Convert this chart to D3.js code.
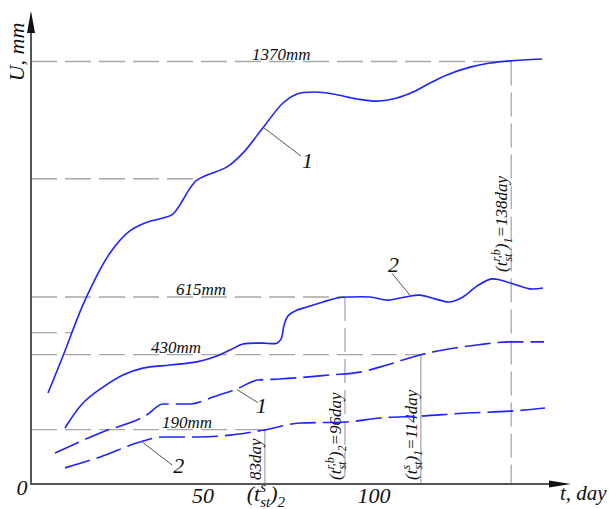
<!DOCTYPE html>
<html><head><meta charset="utf-8">
<script src="https://cdn.jsdelivr.net/npm/d3@7"></script>
<style>
body{margin:0;background:#fff}
svg{display:block}
</style>
</head><body><svg id="c" width="609" height="509"></svg>
<script>
// ---- data (t in schematic days, U in mm) ----
const solid1T = [4.97, 9.36, 15.8, 23.1, 28.9, 33.9, 38.6, 41.5, 44.4, 46.5, 48.5, 51.5, 57.3, 62.0, 68.4, 73.7, 77.8, 83.0, 88.3, 95.3, 101.2, 107.0, 111.7, 116.7, 121.6, 128.4, 134.2, 140.1, 149.4];
const solid1U = [307, 426, 605, 756, 827, 855, 868, 881, 926, 964, 990, 1006, 1032, 1077, 1166, 1237, 1266, 1272, 1266, 1250, 1243, 1253, 1272, 1301, 1327, 1352, 1365, 1372, 1378];
const solid2T = [9.94, 15.2, 21.05, 26.9, 32.7, 40.6, 48.5, 54.4, 58.2, 62.0, 67.8, 71.9, 73.1, 74.0, 75.1, 77.2, 80.7, 85.4, 89.5, 93.3, 99.1, 104.4, 109.4, 113.7, 118.1, 122.5, 126.3, 130.4, 134.8, 140.1, 145.9, 149.7];
const solid2U = [195, 275, 326, 365, 387, 397, 407, 426, 445, 464, 467, 467, 480, 525, 554, 570, 583, 599, 612, 615, 615, 605, 615, 621, 609, 599, 615, 650, 673, 660, 641, 644];
const dashed1T = [7.02, 20.2, 33.9, 38.6, 46.5, 53.2, 60.2, 66.4, 72.8, 87.4, 96.2, 104.1, 113.7, 120.5, 130.4, 140.1, 150.0];
const dashed1U = [115, 179, 237, 272, 272, 294, 320, 349, 352, 365, 374, 397, 429, 445, 461, 471, 471];
const dashed2T = [9.94, 20.2, 31.9, 38.6, 48.5, 58.2, 68.4, 78.7, 91.8, 102.0, 113.7, 127.5, 140.1, 150.3];
const dashed2U = [67, 102, 150, 166, 166, 172, 189, 211, 214, 227, 233, 243, 249, 259];

const refLevels = [1370, 994, 615, 501, 430, 190];
const refEndT   = [140.4, 49.6, 91.8, 12.0, 114.0, 68.4];
const refLabels = ["1370mm", "", "615mm", "", "430mm", "190mm"];
const refLabelT = [64.6, 0, 42.4, 0, 35.1, 38.3];

const markerT = [68.4, 91.8, 114.0, 140.4];
const markerU = [190, 615, 430, 1370];
const markerLabels = [
  [{s:"83day",k:"n"}],
  [{s:"(t",k:"n"},{s:"st",k:"sub"},{s:"r,b",k:"sup"},{s:")",k:"n"},{s:"2",k:"sub"},{s:"=96day",k:"n"}],
  [{s:"(t",k:"n"},{s:"st",k:"sub"},{s:"s",k:"sup"},{s:")",k:"n"},{s:"1",k:"sub"},{s:"=114day",k:"n"}],
  [{s:"(t",k:"n"},{s:"st",k:"sub"},{s:"r,b",k:"sup"},{s:")",k:"n"},{s:"1",k:"sub"},{s:"=138day",k:"n"}]
];
const markerDashed = [false, true, false, true];

const xTicks = [50, 100];
const xTickLabels = ["50", "100"];

const curveNames = ["1", "2", "1", "2"];
const leaderT = [67.8, 111.1, 60.2, 32.5];
const leaderU = [1160, 617, 318, 150];

// ---- layout ----
const FONT = "'Liberation Serif', 'Times New Roman', serif";
const svg = d3.select("#c");
const x = d3.scaleLinear().domain([0, 100]).range([31, 373]);
const y = d3.scaleLinear().domain([0, 1370]).range([488.8, 61.5]);
const axisX = 31, axisY = 484;
const blue = "#1f23ff";

function txt(parent) {
  return parent.append("text").attr("font-family", FONT).attr("font-style", "italic").attr("fill", "#111");
}

// reference horizontal dashed lines
refLevels.forEach((u, i) => {
  svg.append("line").attr("x1", axisX).attr("x2", x(refEndT[i]))
    .attr("y1", y(u)).attr("y2", y(u))
    .attr("stroke", "#a8a8a8").attr("stroke-width", 1.3).attr("stroke-dasharray", "26,8");
  if (refLabels[i]) {
    txt(svg).attr("x", x(refLabelT[i])).attr("y", y(u) - 2)
      .attr("font-size", 17).text(refLabels[i]);
  }
});

// vertical marker lines
markerT.forEach((t, i) => {
  svg.append("line").attr("x1", x(t)).attr("x2", x(t))
    .attr("y1", y(markerU[i])).attr("y2", axisY)
    .attr("stroke", "#999").attr("stroke-width", 1.1)
    .attr("stroke-dasharray", markerDashed[i] ? "24,7" : null);
});

// rich text helper (sub/superscripts)
function rich(parent, parts, F) {
  const t = txt(parent).attr("font-size", F);
  let cur = 0, subW = 0, pairEnd = 0;
  parts.forEach((p, i) => {
    const fs = p.k === "n" ? F : Math.round(F * 0.68);
    const off = p.k === "sub" ? F * 0.28 : p.k === "sup" ? -F * 0.42 : 0;
    const ts = t.append("tspan").text(p.s).attr("font-size", fs).attr("dy", off - cur);
    cur = off;
    if (p.k === "sup" && i > 0 && parts[i - 1].k === "sub") {
      ts.attr("dx", -subW);
      const w = ts.node().getComputedTextLength();
      pairEnd = Math.max(0, subW - w);
    } else if (pairEnd > 0) {
      ts.attr("dx", pairEnd); pairEnd = 0;
    }
    if (p.k === "sub") subW = ts.node().getComputedTextLength();
  });
  return t;
}

// marker labels (rotated)
const markerLabelStart = [axisY - 4, axisY - 4, axisY - 4, 272];
markerT.forEach((t, i) => {
  const g = svg.append("g").attr("transform", `translate(${x(t) - 4},${markerLabelStart[i]}) rotate(-90)`);
  rich(g, markerLabels[i], 17);
});

// curves
const solidLine = d3.line().x(d => x(d[0])).y(d => y(d[1])).curve(d3.curveCatmullRom.alpha(0.5));
const dashLine = d3.line().x(d => x(d[0])).y(d => y(d[1])).curve(d3.curveMonotoneX);
const series = [
  {T: solid1T, U: solid1U, gen: solidLine, dash: null},
  {T: solid2T, U: solid2U, gen: solidLine, dash: null},
  {T: dashed1T, U: dashed1U, gen: dashLine, dash: "26,7"},
  {T: dashed2T, U: dashed2U, gen: dashLine, dash: "26,7"}
];
series.forEach(s => {
  svg.append("path").datum(s.T.map((t, i) => [t, s.U[i]]))
    .attr("d", s.gen).attr("fill", "none").attr("stroke", blue)
    .attr("stroke-width", 1.6).attr("stroke-dasharray", s.dash);
});

// leaders and curve numbers
const leaderOff = [[38, 29], [-19, -23], [21, 13], [30, 23]];
const nameOff = [[39, 41], [-23, -24], [19, 23], [31, 31]];
curveNames.forEach((n, i) => {
  const ax = x(leaderT[i]), ay = y(leaderU[i]);
  svg.append("line").attr("x1", ax).attr("y1", ay)
    .attr("x2", ax + leaderOff[i][0]).attr("y2", ay + leaderOff[i][1])
    .attr("stroke", "#555").attr("stroke-width", 1);
  txt(svg).attr("x", ax + nameOff[i][0]).attr("y", ay + nameOff[i][1])
    .attr("font-size", 22).text(n);
});

// axes
svg.append("line").attr("x1", axisX).attr("x2", 552).attr("y1", axisY).attr("y2", axisY)
  .attr("stroke", "#555").attr("stroke-width", 2);
svg.append("line").attr("x1", axisX).attr("x2", axisX).attr("y1", axisY + 1).attr("y2", 30)
  .attr("stroke", "#555").attr("stroke-width", 2);
svg.append("path").attr("d", `M571,${axisY} L549,${axisY - 3.5} L549,${axisY + 3.5} Z`).attr("fill", "#111");
svg.append("path").attr("d", `M${axisX},11 L${axisX - 4},33 L${axisX + 4},33 Z`).attr("fill", "#111");

// tick labels
xTicks.forEach((v, i) => {
  txt(svg).attr("x", x(v) + 1).attr("y", 503).attr("text-anchor", "middle")
    .attr("font-size", 22).text(xTickLabels[i]);
});
txt(svg).attr("x", 22).attr("y", 495).attr("text-anchor", "middle").attr("font-size", 22).text("0");
const bl = rich(svg.append("g").attr("transform", `translate(${x(markerT[0]) + 1},501)`),
  [{s:"(t",k:"n"},{s:"st",k:"sub"},{s:"s",k:"sup"},{s:")",k:"n"},{s:"2",k:"sub"}], 22);
bl.attr("text-anchor", "middle");

// axis titles
txt(svg).attr("x", 560).attr("y", 500).attr("font-size", 21).text("t, day");
txt(svg).attr("transform", "translate(24,52) rotate(-90)").attr("text-anchor", "middle")
  .attr("font-size", 22).text("U, mm");
</script>
</body></html>
